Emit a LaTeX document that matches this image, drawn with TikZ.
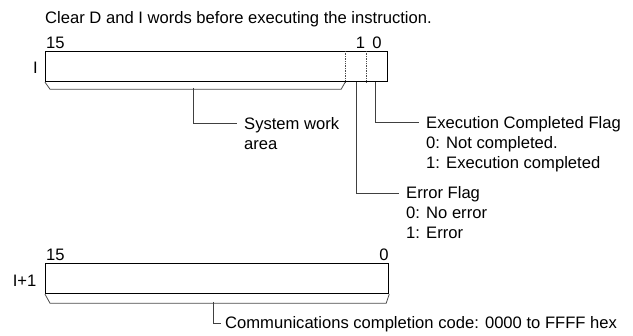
\documentclass[tikz,border=0pt]{standalone}
\usepackage{fontspec}
\setmainfont{Liberation Sans}
\usetikzlibrary{arrows.meta}

\tikzset{
  word/.style={draw, line width=1.2pt, inner sep=0pt, minimum height=30pt, anchor=north west},
  brace/.style={draw=black!70, line width=0.8pt},
  lead/.style={draw=black!75, line width=0.8pt},
  sep/.style={draw=black!70, line width=0.7pt, densely dotted},
  lbl/.style={inner sep=0pt, anchor=base west, align=left},
  bitno/.style={inner sep=0pt, anchor=base},
}

\begin{document}
\begin{tikzpicture}[x=1pt, y=-1pt, font=\fontsize{16.6}{20}\selectfont]
\useasboundingbox (0,0) rectangle (633,336);
\node[lbl] (note) at (45,24) {Clear D and I words before executing the instruction.};
% word I
\node[word, minimum width=342pt] (wordI) at (45,51) {};
\node[inner sep=0pt, anchor=base east] (nameI) at (38,74) {I};
\node[bitno, anchor=base west] (hiI) at (46,49) {15};
\node[bitno] (oneI) at (360.5,49) {1};
\node[bitno] (zeroI) at (377,49) {0};
\draw[sep] ([xshift=-43pt]wordI.north east) -- ([xshift=-43pt]wordI.south east);
\draw[sep] ([xshift=-22pt]wordI.north east) -- ([xshift=-22pt]wordI.south east);
\draw[brace] (wordI.south west) -- ++(5,7) -- ([xshift=-47pt,yshift=-7pt]wordI.south east) -- ([xshift=-43pt]wordI.south east);
\coordinate (sysroot) at (193,88);
\coordinate (bit1) at ([xshift=-32pt]wordI.south east);
\coordinate (bit0) at ([xshift=-13pt]wordI.south east);
% base = last line of a block
\node[lbl] (sys) at (244,150) {System work\\area};
\node[lbl] (done) at (426,169) {Execution Completed Flag\\0: Not completed.\\1: Execution completed};
\node[lbl] (err) at (406,239) {Error Flag\\0: No error\\1: Error};
\draw[lead] (sysroot) |- ([xshift=-7pt,yshift=27pt]sys.base west);
\draw[lead] (bit0) |- ([xshift=-7pt,yshift=47pt]done.base west);
\draw[lead] (bit1) |- ([xshift=-7pt,yshift=46pt]err.base west);
% word I+1
\node[word, minimum width=343pt] (wordJ) at (45,263) {};
\node[inner sep=0pt, anchor=base east] (nameJ) at (36.5,287) {I+1};
\node[bitno, anchor=base west] (hiJ) at (46,261) {15};
\node[bitno] (zeroJ) at (384,261) {0};
\draw[brace] (wordJ.south west) -- ++(5,9) -- ([xshift=-3pt,yshift=-9pt]wordJ.south east) -- (wordJ.south east);
\coordinate (coderoot) at (213,302);
\node[lbl] (code) at (225,329) {Communications completion code: 0000 to FFFF hex};
\draw[lead] (coderoot) |- ([xshift=-4pt,yshift=6pt]code.base west);
\end{tikzpicture}
\end{document}
